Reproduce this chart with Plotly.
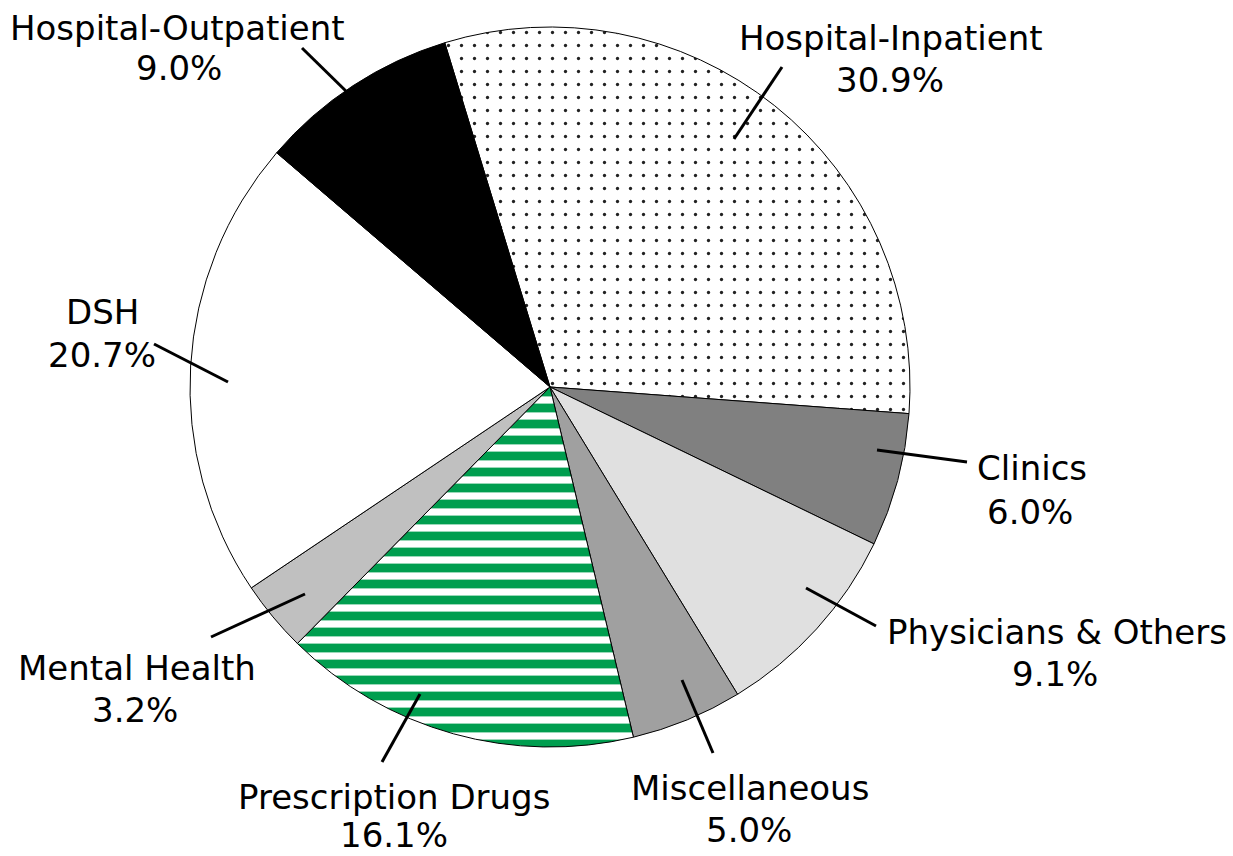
import plotly.graph_objects as go

# ---- data ----
labels = ["Hospital-Inpatient", "Clinics", "Physicians & Others", "Miscellaneous",
          "Prescription Drugs", "Mental Health", "DSH", "Hospital-Outpatient"]
values = [30.9, 6.0, 9.1, 5.0, 16.1, 3.2, 20.7, 9.0]

# ---- styling ----
colors = ["white", "#808080", "#e0e0e0", "#a0a0a0", "white", "#c0c0c0", "white", "black"]
pat_shape = [".", "", "", "", "-", "", "", ""]
pat_fg = ["#222222", "black", "black", "black", "#009e4f", "black", "black", "black"]
pat_size = [13, 10, 10, 10, 16, 10, 10, 10]
pat_solid = [0.05, 0.3, 0.3, 0.3, 0.55, 0.3, 0.3, 0.3]

W, H = 1233, 856
CX, CY, R = 550, 387, 360      # pie centre / radius in pixels
ROT = -17                      # start angle (degrees clockwise from 12 o'clock)

# label text placement (pixel centres of name line and value line) and leader lines
name_pos = [(891, 38), (1032, 468), (1057, 632), (750, 788),
            (394, 797), (137, 668), (102, 312), (177, 28)]
val_pos = [(890, 80), (1030, 512), (1055, 674), (749, 830),
           (394, 835), (135, 710), (102, 355), (179, 68)]
lead_start = [(734, 139), (877, 450), (806, 588), (682, 680),
              (420, 694), (305, 594), (228, 382), (350, 95)]
lead_end = [(782, 67), (967, 462), (876, 626), (713, 753),
            (382, 762), (211, 637), (154, 344), (302, 48)]
FONT = dict(family="DejaVu Sans", size=34, color="black")


def px2paper(x, y):
    return x / W, 1 - y / H


fig = go.Figure(go.Pie(
    labels=labels, values=values, sort=False, direction="clockwise",
    rotation=ROT, textinfo="none", hoverinfo="label+percent",
    showlegend=False,
    domain=dict(x=[(CX - R) / W, (CX + R) / W], y=[1 - (CY + R) / H, 1 - (CY - R) / H]),
    marker=dict(colors=colors, line=dict(color="black", width=1),
                pattern=dict(shape=pat_shape, fgcolor=pat_fg, size=pat_size,
                             solidity=pat_solid, fillmode="overlay", fgopacity=1)),
))

shapes, annots = [], []
for lab, v, npos, vpos, ls, le in zip(labels, values, name_pos, val_pos, lead_start, lead_end):
    p0, p1 = px2paper(*ls), px2paper(*le)
    shapes.append(dict(type="line", xref="paper", yref="paper",
                       x0=p0[0], y0=p0[1], x1=p1[0], y1=p1[1],
                       line=dict(color="black", width=3)))
    for txt, pos in ((lab, npos), (f"{v:.1f}%", vpos)):
        px, py = px2paper(*pos)
        annots.append(dict(text=txt, x=px, y=py, xref="paper", yref="paper",
                           xanchor="center", yanchor="middle", showarrow=False,
                           font=FONT))

fig.update_layout(width=W, height=H, margin=dict(l=0, r=0, t=0, b=0),
                  paper_bgcolor="white", plot_bgcolor="white",
                  shapes=shapes, annotations=annots)

fig.write_html("out.html", config={"displayModeBar": False},
               post_script="document.body.style.margin='0';document.body.style.overflow='hidden';")
